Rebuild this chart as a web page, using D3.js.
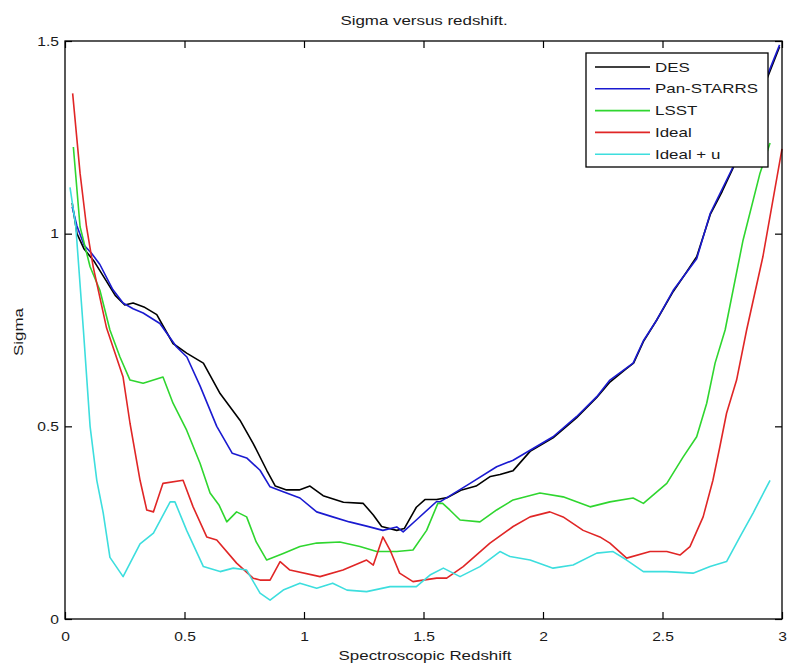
<!DOCTYPE html>
<html>
<head>
<meta charset="utf-8">
<script src="https://cdn.jsdelivr.net/npm/d3@7"></script>
<style>
  html, body { margin: 0; padding: 0; background: #fff; }
  svg { display: block; }
  text { font-family: "Liberation Sans", Arial, Helvetica, sans-serif; fill: #1a1a1a; }
</style>
</head>
<body>
<svg id="chart" width="792" height="665"></svg>
<script>
// ---------- data ----------
const seriesNames = ["DES", "Pan-STARRS", "LSST", "Ideal", "Ideal + u"];

const desX = [0.03,0.05,0.08,0.12,0.17,0.21,0.25,0.285,0.33,0.384,0.42,0.452,0.509,0.579,0.649,0.732,0.787,0.844,0.88,0.927,0.98,1.025,1.08,1.165,1.248,1.29,1.325,1.388,1.42,1.47,1.506,1.555,1.6,1.66,1.72,1.78,1.82,1.875,1.946,2.042,2.14,2.225,2.28,2.34,2.38,2.42,2.476,2.545,2.6,2.643,2.70,2.75,2.795,2.86,2.936,2.99];
const desY = [1.08,1.0,0.96,0.93,0.88,0.84,0.815,0.82,0.81,0.79,0.75,0.715,0.69,0.664,0.585,0.516,0.456,0.386,0.345,0.335,0.335,0.345,0.32,0.303,0.30,0.27,0.24,0.23,0.235,0.29,0.31,0.31,0.315,0.335,0.345,0.37,0.375,0.385,0.435,0.47,0.522,0.575,0.615,0.645,0.665,0.72,0.776,0.85,0.9,0.94,1.05,1.11,1.17,1.27,1.40,1.485];

const panX = [0.03,0.05,0.08,0.11,0.146,0.2,0.243,0.285,0.327,0.397,0.467,0.51,0.565,0.635,0.70,0.76,0.816,0.858,0.913,0.983,1.053,1.12,1.19,1.262,1.33,1.388,1.415,1.47,1.555,1.569,1.695,1.806,1.875,1.946,2.042,2.14,2.225,2.28,2.377,2.42,2.476,2.545,2.643,2.70,2.795,2.86,2.936,2.99];
const panY = [1.07,1.02,0.97,0.95,0.92,0.855,0.82,0.805,0.794,0.767,0.706,0.68,0.605,0.50,0.43,0.418,0.386,0.343,0.33,0.314,0.278,0.265,0.252,0.241,0.23,0.239,0.226,0.257,0.305,0.304,0.352,0.395,0.412,0.438,0.473,0.525,0.577,0.62,0.664,0.722,0.776,0.853,0.935,1.053,1.173,1.28,1.407,1.49];

const lsstX = [0.035,0.063,0.105,0.146,0.188,0.23,0.272,0.327,0.41,0.452,0.509,0.565,0.607,0.645,0.677,0.718,0.76,0.80,0.844,0.913,0.983,1.053,1.15,1.234,1.304,1.388,1.456,1.513,1.56,1.58,1.61,1.653,1.736,1.806,1.875,1.987,2.084,2.197,2.28,2.377,2.42,2.518,2.586,2.643,2.685,2.72,2.762,2.837,2.908,2.95];
const lsstY = [1.225,1.018,0.914,0.853,0.75,0.68,0.62,0.612,0.628,0.56,0.49,0.404,0.327,0.295,0.252,0.278,0.265,0.20,0.153,0.17,0.188,0.197,0.20,0.188,0.175,0.175,0.179,0.23,0.30,0.30,0.283,0.257,0.252,0.283,0.309,0.327,0.317,0.291,0.304,0.314,0.30,0.352,0.42,0.473,0.56,0.664,0.75,0.983,1.157,1.235];

const idealX = [0.032,0.063,0.09,0.118,0.174,0.243,0.272,0.314,0.342,0.37,0.41,0.494,0.536,0.593,0.635,0.718,0.787,0.816,0.858,0.90,0.941,1.067,1.163,1.262,1.29,1.33,1.36,1.40,1.456,1.555,1.597,1.666,1.778,1.875,1.946,2.029,2.084,2.168,2.238,2.28,2.35,2.448,2.518,2.573,2.615,2.67,2.711,2.74,2.768,2.81,2.852,2.92,3.0];
const idealY = [1.364,1.157,1.018,0.914,0.755,0.628,0.508,0.36,0.283,0.278,0.352,0.36,0.291,0.213,0.205,0.145,0.106,0.101,0.101,0.149,0.127,0.11,0.127,0.153,0.14,0.213,0.179,0.119,0.097,0.106,0.106,0.136,0.197,0.24,0.265,0.278,0.265,0.23,0.213,0.197,0.158,0.175,0.175,0.166,0.188,0.265,0.36,0.447,0.534,0.62,0.75,0.94,1.22];

const idealUX = [0.021,0.045,0.077,0.105,0.133,0.16,0.188,0.243,0.314,0.37,0.44,0.46,0.509,0.579,0.649,0.704,0.76,0.816,0.858,0.913,0.983,1.053,1.12,1.18,1.262,1.36,1.47,1.527,1.583,1.653,1.736,1.82,1.862,1.946,2.042,2.126,2.225,2.293,2.35,2.42,2.518,2.628,2.699,2.768,2.824,2.879,2.95];
const idealUY = [1.12,1.02,0.75,0.50,0.36,0.275,0.16,0.11,0.195,0.223,0.304,0.304,0.23,0.136,0.123,0.132,0.127,0.067,0.049,0.075,0.093,0.08,0.093,0.075,0.071,0.084,0.084,0.114,0.132,0.11,0.136,0.175,0.162,0.153,0.132,0.14,0.171,0.175,0.153,0.123,0.123,0.119,0.136,0.149,0.213,0.275,0.36];

const xTickValues = [0, 0.5, 1, 1.5, 2, 2.5, 3];
const xTickLabels = ["0", "0.5", "1", "1.5", "2", "2.5", "3"];
const yTickValues = [0, 0.5, 1, 1.5];
const yTickLabels = ["0", "0.5", "1", "1.5"];

const titleText = "Sigma versus redshift.";
const xLabelText = "Spectroscopic Redshift";
const yLabelText = "Sigma";

// ---------- layout ----------
const colors = ["#000000", "#1a1ad0", "#2fd62f", "#e02626", "#3ddede"];
const margin = { left: 65, top: 41 };
const plotW = 782 - 65, plotH = 619 - 41;

const svg = d3.select("#chart");
const g = svg.append("g").attr("transform", `translate(${margin.left},${margin.top})`);

const x = d3.scaleLinear().domain([0, 3]).range([0, plotW]);
const y = d3.scaleLinear().domain([0, 1.5]).range([plotH, 0]);

const series = [
  { name: seriesNames[0], xs: desX, ys: desY },
  { name: seriesNames[1], xs: panX, ys: panY },
  { name: seriesNames[2], xs: lsstX, ys: lsstY },
  { name: seriesNames[3], xs: idealX, ys: idealY },
  { name: seriesNames[4], xs: idealUX, ys: idealUY }
];

// lines, drawn in legend order (later series on top)
const line = d3.line().x(d => x(d[0])).y(d => y(d[1]));
series.forEach((s, i) => {
  g.append("path")
    .datum(s.xs.map((v, k) => [v, s.ys[k]]))
    .attr("fill", "none")
    .attr("stroke", colors[i])
    .attr("stroke-width", 1.6)
    .attr("stroke-linejoin", "round")
    .attr("d", line);
});

// axes with inward ticks on all four sides
const fmtX = (d, i) => xTickLabels[i];
const fmtY = (d, i) => yTickLabels[i];

const axB = g.append("g").attr("transform", `translate(0,${plotH})`)
  .call(d3.axisBottom(x).tickValues(xTickValues).tickFormat(fmtX).tickSizeInner(-7).tickSizeOuter(0).tickPadding(13));
const axT = g.append("g")
  .call(d3.axisTop(x).tickValues(xTickValues).tickFormat("").tickSizeInner(-7).tickSizeOuter(0));
const axL = g.append("g")
  .call(d3.axisLeft(y).tickValues(yTickValues).tickFormat(fmtY).tickSizeInner(-7).tickSizeOuter(0).tickPadding(6));
const axR = g.append("g").attr("transform", `translate(${plotW},0)`)
  .call(d3.axisRight(y).tickValues(yTickValues).tickFormat("").tickSizeInner(-7).tickSizeOuter(0));

[axB, axT, axL, axR].forEach(a => {
  a.select(".domain").remove();
  a.selectAll("line").attr("stroke", "#000").attr("stroke-width", 1.2);
  a.selectAll("text").attr("font-size", 13).attr("fill", "#1a1a1a")
    .style("font-family", '"Liberation Sans", Arial, sans-serif');
});

// frame
g.append("rect").attr("x", 0).attr("y", 0).attr("width", plotW).attr("height", plotH)
  .attr("fill", "none").attr("stroke", "#000").attr("stroke-width", 1.3);

// title and labels
svg.append("text").attr("class", "stretch").attr("x", 424).attr("y", 25)
  .attr("text-anchor", "middle").attr("font-size", 13).text(titleText);
svg.append("text").attr("class", "stretch").attr("x", 425).attr("y", 660)
  .attr("text-anchor", "middle").attr("font-size", 13).text(xLabelText);
svg.append("text").attr("class", "stretch")
  .attr("transform", "translate(23,332) rotate(-90)")
  .attr("text-anchor", "middle").attr("font-size", 13).text(yLabelText);

// legend
const lg = svg.append("g").attr("transform", "translate(586,53)");
lg.append("rect").attr("x", 0).attr("y", 0).attr("width", 182).attr("height", 114)
  .attr("fill", "#fff").attr("stroke", "#000").attr("stroke-width", 1.3);
series.forEach((s, i) => {
  const cy = 14 + i * 21.8;
  lg.append("line").attr("x1", 9).attr("x2", 64).attr("y1", cy).attr("y2", cy)
    .attr("stroke", colors[i]).attr("stroke-width", 1.6);
  lg.append("text").attr("class", "stretch").attr("x", 69).attr("y", cy + 4.6)
    .attr("font-size", 13).text(s.name);
});

// widen text horizontally like the reference's rendering
svg.selectAll("text.stretch").each(function() {
  const w = this.getComputedTextLength();
  d3.select(this).attr("textLength", w * 1.3).attr("lengthAdjust", "spacingAndGlyphs");
});
[axB, axL].forEach(a => a.selectAll("text").each(function() {
  const w = this.getComputedTextLength();
  d3.select(this).attr("textLength", w * 1.2).attr("lengthAdjust", "spacingAndGlyphs");
}));
</script>
</body>
</html>
